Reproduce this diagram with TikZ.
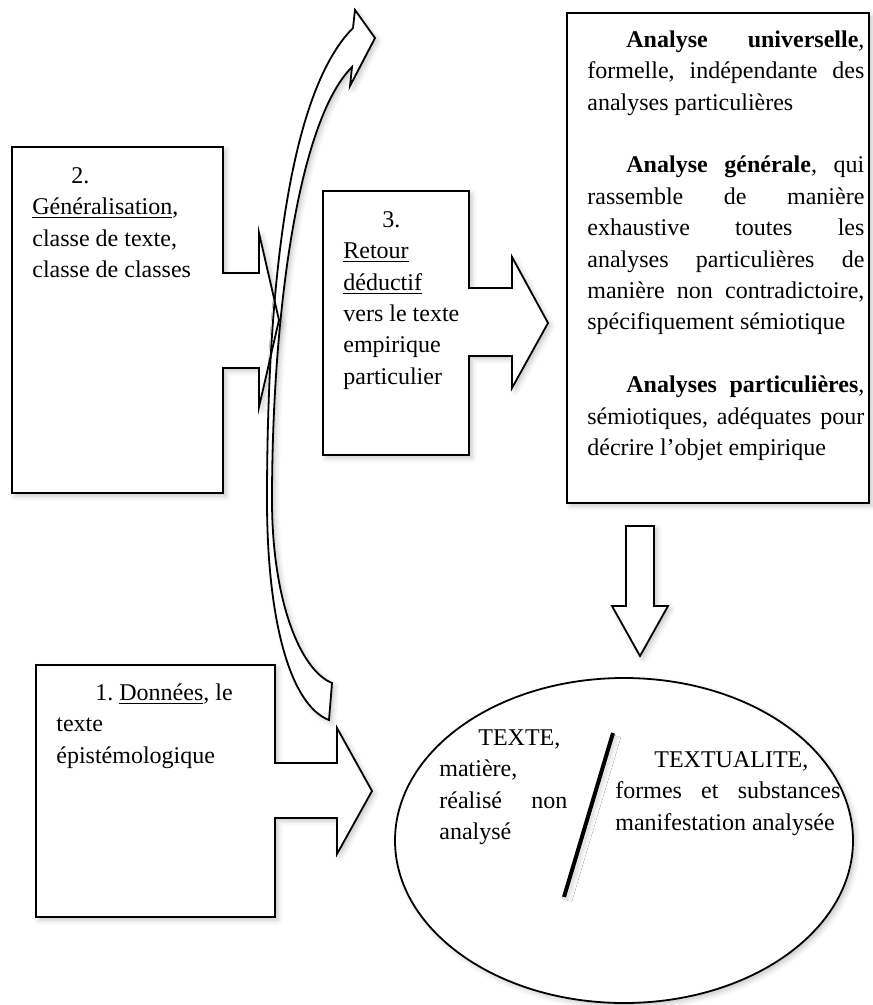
\documentclass[tikz,border=0pt]{standalone}
\usepackage{fontspec}
\setmainfont{Liberation Serif}
\usetikzlibrary{shadows.blur}
\setlength{\parindent}{0pt}
\frenchspacing
\tolerance=10000
\hyphenpenalty=10000
\hbadness=10000
\newcommand{\firstrule}{\rule{0pt}{10pt}}
\newcommand{\firstind}{\hspace*{19.5pt}}
\tikzset{
  soft/.style={blur shadow={shadow xshift=1.5pt, shadow yshift=-1.5pt, shadow blur radius=2.5pt, shadow opacity=22}},
  outline/.style={draw, line width=0.9pt, fill=white, soft},
  txt/.style={anchor=north west, inner sep=0pt, font=\fontsize{12}{15.7}\selectfont}
}

\begin{document}
\begin{tikzpicture}[x=0.5pt, y=-0.5pt]
            \useasboundingbox (0,0) rectangle (872,1005);
            \draw[outline] (567,13) rectangle (869,503);
            \draw[outline] (323,191) -- (469,191) -- (469,288) -- (512,288) -- (512,257) -- (548,323) -- (512,388) -- (512,356) -- (469,356) -- (469,455) -- (323,455) -- cycle;
            \fill[white, soft] (12,147) -- (223,147) -- (223,273) -- (259,273) -- (259,233) -- (279,320) -- (259,407) -- (259,368) -- (223,368) -- (223,493) -- (12,493) -- cycle;
            \draw[outline] (353,28) -- (355,10) -- (375,38) -- (350,86) -- (352,67)
                .. controls (297,122) and (272,320) .. (272,500)
                .. controls (272,600) and (300,670) .. (332,683) -- (329,720)
                .. controls (290,705) and (267,620) .. (267,500)
                .. controls (267,300) and (286,95) .. (353,28) -- cycle;
            \draw[line width=0.9pt] (12,147) -- (223,147) -- (223,273) -- (259,273) -- (259,233) -- (279,320) -- (259,407) -- (259,368) -- (223,368) -- (223,493) -- (12,493) -- cycle;
            \draw[outline] (36,665) -- (275,665) -- (275,763) -- (337,763) -- (337,728) -- (372,791) -- (337,854) -- (337,818) -- (275,818) -- (275,917) -- (36,917) -- cycle;
            \draw[outline] (626,526) -- (654,526) -- (654,606) -- (668,606) -- (640,656) -- (612,606) -- (626,606) -- cycle;
            \draw[outline] (624,840.5) ellipse [x radius=229, y radius=162.5];
            \draw[line width=2pt, soft] (613,733) -- (564,897);

            \node[txt, text width=138.5pt, align=justify] (univ) at (587,27) {\firstrule\firstind\textbf{Analyse universelle},\linebreak formelle, indépendante des\linebreak analyses particulières\par
                \mbox{}\par
                \firstind\textbf{Analyse générale}, qui\linebreak rassemble de manière\linebreak exhaustive toutes les\linebreak analyses particulières de\linebreak manière non contradictoire,\linebreak spécifiquement sémiotique\par
                \mbox{}\par
                \firstind\textbf{Analyses particulières},\linebreak sémiotiques, adéquates pour\linebreak décrire l’objet empirique};
            \node[txt, text width=62pt, align=flush left] (retour) at (343,207) {\firstrule\firstind 3.\\\underline{Retour}\\\underline{déductif}\\vers le texte\\empirique\\particulier};
            \node[txt, text width=90pt, align=flush left] (general) at (32,163) {\firstrule\firstind 2.\\\underline{Généralisation},\\classe de texte,\\classe de classes};
            \node[txt, text width=100pt, align=flush left] (donnees) at (56,680) {\firstrule\firstind 1. \underline{Données}, le\\texte\\épistémologique};
            \node[txt, text width=64pt, align=justify] (texte) at (439,725) {\firstrule\firstind TEXTE,\linebreak matière,\linebreak réalisé non\linebreak analysé};
            \node[txt, text width=112.5pt, align=justify] (textualite) at (615,747) {\firstrule\firstind TEXTUALITE,\linebreak formes et substances\linebreak manifestation analysée};
        \end{tikzpicture}
\end{document}
